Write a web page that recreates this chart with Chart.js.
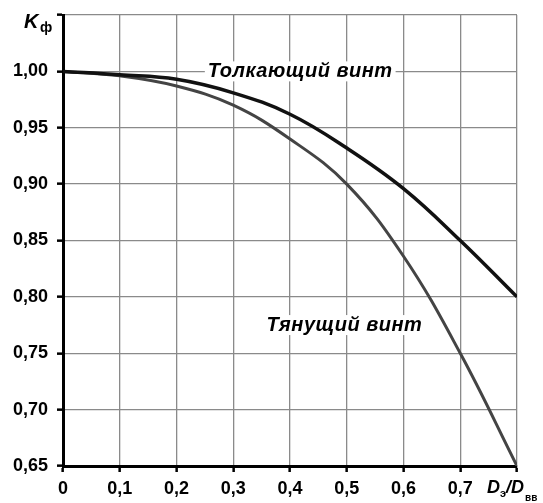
<!DOCTYPE html>
<html>
<head>
<meta charset="utf-8">
<script src="https://cdn.jsdelivr.net/npm/chart.js@4"></script>
<style>
  html, body { margin: 0; padding: 0; background: #fff; }
  #wrap { width: 543px; height: 503px; }
</style>
</head>
<body>
<div id="wrap"><canvas id="myChart"></canvas></div>
<script>
// D_э/D_вв ratio
var ratio = [0, 0.1, 0.2, 0.3, 0.4, 0.5, 0.6, 0.7, 0.8];
// K_ф for pusher and tractor propellers
var pusher = [1.000, 0.997, 0.993, 0.981, 0.962, 0.932, 0.896, 0.850, 0.800];
var tractor = [1.000, 0.996, 0.987, 0.970, 0.940, 0.900, 0.836, 0.750, 0.650];

var xTickLabels = ['0', '0,1', '0,2', '0,3', '0,4', '0,5', '0,6', '0,7', ''];
var yTickLabels = ['0,65', '0,70', '0,75', '0,80', '0,85', '0,90', '0,95', '1,00', ''];

var seriesNames = ['Толкающий винт', 'Тянущий винт'];

function toPoints(xs, ys) {
    var pts = [];
    for (let i = 0; i < xs.length; i++) {
        pts.push({x: xs[i], y: ys[i]});
    }
    return pts;
}

// draws axis titles with subscripts and the curve captions
var textPlugin = {
    id: 'texts',
    afterDraw: function(chart) {
        var ctx = chart.ctx;
        var xs = chart.scales.x, ys = chart.scales.y;
        ctx.save();
        ctx.fillStyle = '#000';
        ctx.textBaseline = 'alphabetic';
        ctx.textAlign = 'left';

        // K_ф
        ctx.font = 'italic bold 20px "Liberation Sans", Arial, sans-serif';
        ctx.fillText('K', 24, 28);
        ctx.font = 'bold 14px "Liberation Sans", Arial, sans-serif';
        ctx.fillText('ф', 40, 32);

        // D_э / D_вв
        var px = xs.getPixelForValue(0.8) - 30;
        var py = 493;
        ctx.font = 'italic bold 18px "Liberation Sans", Arial, sans-serif';
        ctx.fillText('D', px, py);
        var w = ctx.measureText('D').width;
        ctx.font = 'bold 11px "Liberation Sans", Arial, sans-serif';
        ctx.fillText('э', px + w, py + 4);
        var w2 = ctx.measureText('э').width;
        ctx.font = 'italic bold 18px "Liberation Sans", Arial, sans-serif';
        ctx.fillText('/D', px + w + w2, py);
        var w3 = ctx.measureText('/D').width;
        ctx.font = 'bold 10px "Liberation Sans", Arial, sans-serif';
        ctx.fillText('вв', px + w + w2 + w3 + 1, py + 8);

        // captions
        ctx.font = 'italic bold 20px "Liberation Sans", Arial, sans-serif';
        ctx.letterSpacing = '0.5px';
        ctx.textAlign = 'center';
        ctx.textBaseline = 'middle';
        var caps = [[seriesNames[0], 0.418, 1.0], [seriesNames[1], 0.496, 0.775]];
        caps.forEach(function(c) {
            var cx = xs.getPixelForValue(c[1]);
            var cy = ys.getPixelForValue(c[2]);
            var tw = ctx.measureText(c[0]).width;
            ctx.fillStyle = '#fff';
            ctx.fillRect(cx - tw / 2 - 3, cy - 10, tw + 6, 20);
            ctx.fillStyle = '#000';
            ctx.fillText(c[0], cx, cy);
        });
        ctx.restore();
    }
};

var ctx = document.getElementById('myChart');
var myChart = new Chart(ctx, {
    type: 'line',
    data: {
        datasets: [{
            label: seriesNames[0],
            data: toPoints(ratio, pusher),
            borderColor: '#111',
            borderWidth: 3.5,
            pointRadius: 0,
            tension: 0.4
        }, {
            label: seriesNames[1],
            data: toPoints(ratio, tractor),
            borderColor: '#444',
            borderWidth: 3,
            pointRadius: 0,
            tension: 0.4
        }]
    },
    plugins: [textPlugin],
    options: {
        responsive: true,
        maintainAspectRatio: false,
        animation: false,
        layout: {
            padding: {top: 15, right: 26, left: 0, bottom: 0}
        },
        plugins: {
            legend: {display: false},
            tooltip: {enabled: false}
        },
        scales: {
            x: {
                type: 'linear',
                min: 0,
                max: 0.8,
                afterFit: function(s) { s.height = 37; s.paddingLeft = 0; s.paddingRight = 0; },
                border: {color: '#000', width: 3},
                grid: {
                    color: '#8a8a8a',
                    lineWidth: 1.3,
                    tickColor: '#000',
                    tickWidth: 2.5,
                    tickLength: 6
                },
                ticks: {
                    stepSize: 0.1,
                    padding: 6,
                    maxRotation: 0,
                    color: '#000',
                    font: {family: '"Liberation Sans", Arial, sans-serif', size: 18, weight: 'bold'},
                    callback: function(v, i) { return xTickLabels[i]; }
                }
            },
            y: {
                min: 0.65,
                max: 1.05,
                afterFit: function(s) { s.width = 63; s.paddingTop = 0; s.paddingBottom = 0; },
                border: {color: '#000', width: 3},
                grid: {
                    color: '#8a8a8a',
                    lineWidth: 1.3,
                    tickColor: '#000',
                    tickWidth: 2.5,
                    tickLength: 6
                },
                ticks: {
                    stepSize: 0.05,
                    padding: 9,
                    color: '#000',
                    font: {family: '"Liberation Sans", Arial, sans-serif', size: 18, weight: 'bold'},
                    callback: function(v, i) { return yTickLabels[i]; }
                }
            }
        }
    }
});
</script>
</body>
</html>
